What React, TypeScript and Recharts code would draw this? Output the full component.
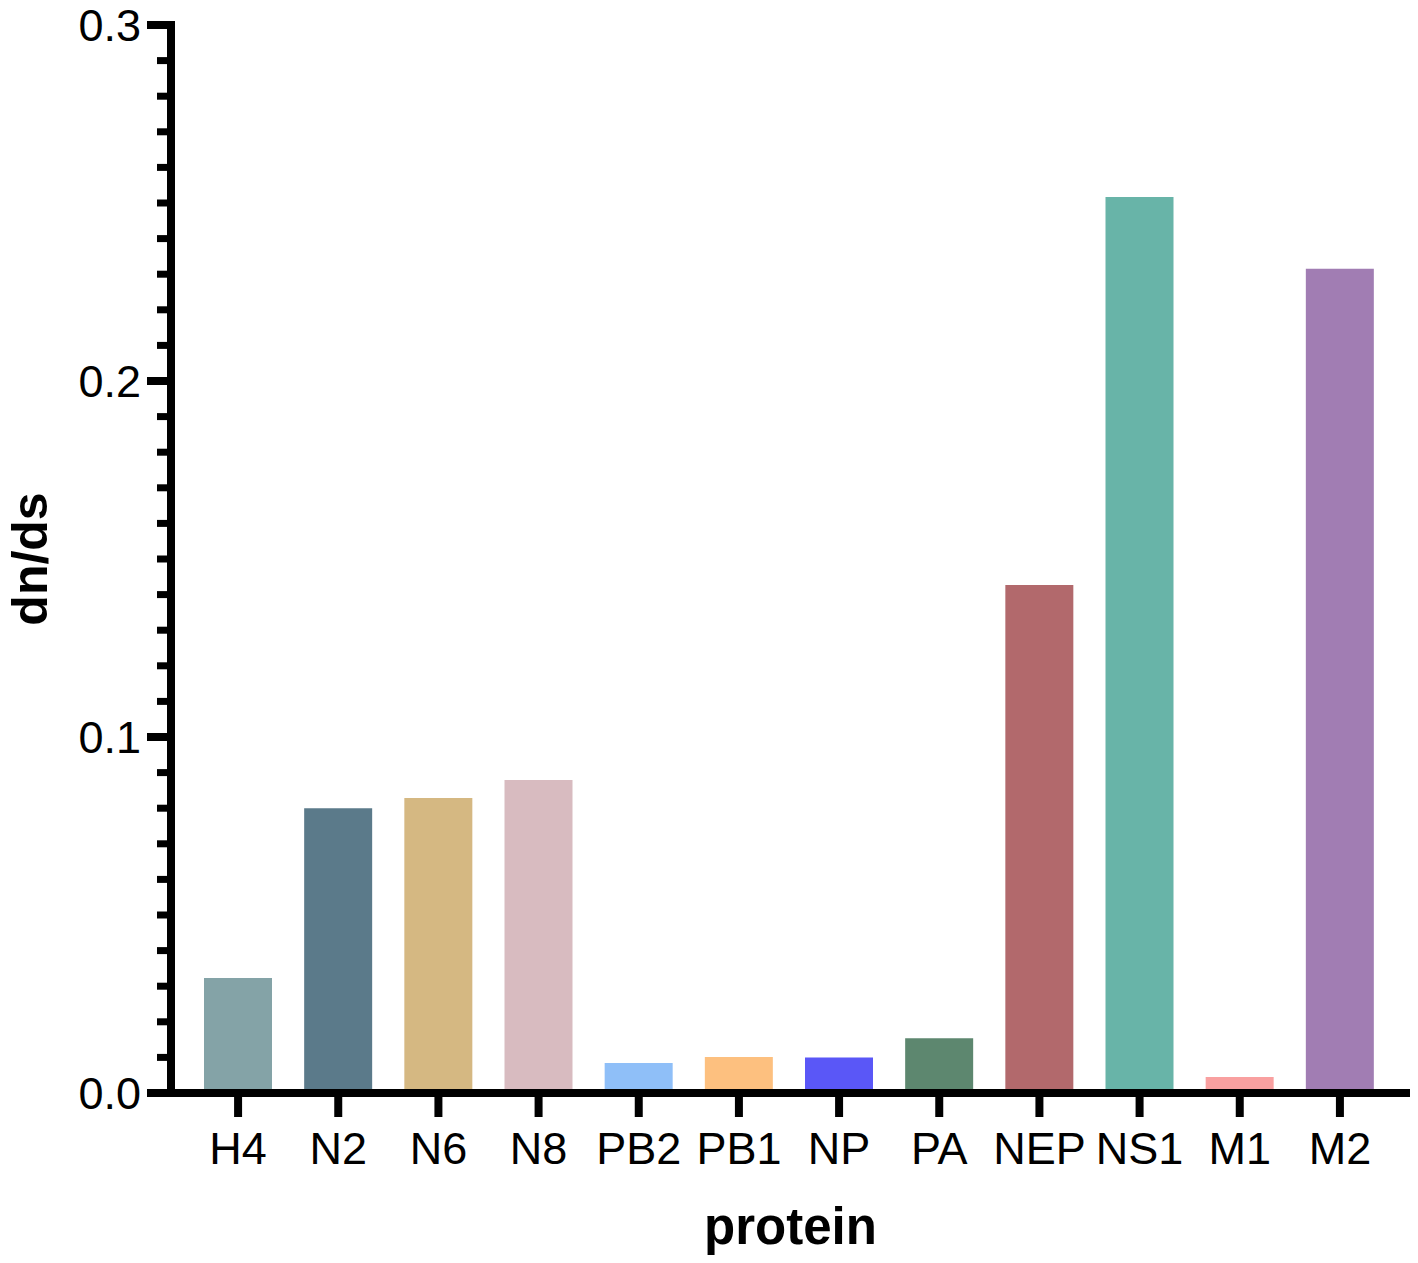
import React from 'react';
import { BarChart, Bar, XAxis, YAxis, Cell, Label } from 'recharts';

const proteins = ['H4', 'N2', 'N6', 'N8', 'PB2', 'PB1', 'NP', 'PA', 'NEP', 'NS1', 'M1', 'M2'];
const dnds = [0.0323, 0.08, 0.0829, 0.0879, 0.0084, 0.0101, 0.01, 0.0154, 0.1427, 0.2517, 0.0045, 0.2315];
const barColors = [
  '#84a3a7', '#5b7a8a', '#d5b882', '#d8bbc0', '#8fbff8', '#fdc07f',
  '#5a57f7', '#5d876f', '#b2696c', '#68b4a8', '#f9a0a0', '#a17db3',
];
const majorTicks = [0, 0.1, 0.2, 0.3];
const majorLabels = ['0.0', '0.1', '0.2', '0.3'];
const minorTicksPerMajor = 10;

const data = proteins.map((p, i) => ({ protein: p, dnds: dnds[i] }));
const yTicks: number[] = [];
for (let k = 0; k <= (majorTicks.length - 1) * minorTicksPerMajor; k++) {
  yTicks.push(k / (minorTicksPerMajor * 10));
}

const FONT = '"Liberation Sans", Arial, Helvetica, sans-serif';

function YTick(props: any) {
  const { x, y, payload } = props;
  const v = payload.value;
  const mi = majorTicks.findIndex((m) => Math.abs(m - v) < 1e-9);
  const isMajor = mi >= 0;
  const len = isMajor ? 24 : 14;
  return (
    <g>
      <line x1={x - len} x2={x} y1={y} y2={y} stroke="#000" strokeWidth={isMajor ? 8 : 7} />
      {isMajor && (
        <text
          x={x - 30}
          y={y}
          textAnchor="end"
          dominantBaseline="central"
          fontFamily={FONT}
          fontSize={45}
          fill="#000"
        >
          {majorLabels[mi]}
        </text>
      )}
    </g>
  );
}

export default function App() {
  return (
    <div style={{ position: 'absolute', left: 0, top: 0, width: 1418, height: 1263, background: '#fff' }}>
      <BarChart
        width={1418}
        height={1263}
        data={data}
        margin={{ top: 25, right: 8, bottom: 0, left: 0 }}
        barSize={68}
      >
        <XAxis
          dataKey="protein"
          height={170}
          padding={{ left: 17, right: 20 }}
          axisLine={{ stroke: '#000', strokeWidth: 8 }}
          tickLine={{ stroke: '#000', strokeWidth: 8 }}
          tickSize={24}
          tickMargin={15}
          interval={0}
          tick={{ fill: '#000', fontSize: 45, fontFamily: FONT }}
        >
          <Label
            content={(p: any) => {
              const vb = p.viewBox || { x: 171, y: 1093, width: 1239 };
              return (
                <text
                  x={vb.x + vb.width / 2}
                  y={vb.y + 151}
                  textAnchor="middle"
                  fontFamily={FONT}
                  fontWeight="bold"
                  fontSize={51}
                  fill="#000"
                >
                  protein
                </text>
              );
            }}
          />
        </XAxis>
        <YAxis
          width={171}
          domain={[0, 0.3]}
          ticks={yTicks}
          interval={0}
          allowDataOverflow
          axisLine={{ stroke: '#000', strokeWidth: 8, strokeLinecap: 'square' }}
          tickLine={false}
          tickSize={0}
          tickMargin={0}
          tick={<YTick />}
        >
          <Label
            content={(p: any) => {
              const vb = p.viewBox || { x: 0, y: 25, height: 1068 };
              const cx = 47;
              const cy = vb.y + vb.height / 2;
              return (
                <text
                  x={cx}
                  y={cy}
                  transform={`rotate(-90, ${cx}, ${cy})`}
                  textAnchor="middle"
                  fontFamily={FONT}
                  fontWeight="bold"
                  fontSize={50}
                  fill="#000"
                >
                  dn/ds
                </text>
              );
            }}
          />
        </YAxis>
        <Bar dataKey="dnds" isAnimationActive={false}>
          {data.map((d, i) => (
            <Cell key={d.protein} fill={barColors[i]} />
          ))}
        </Bar>
      </BarChart>
    </div>
  );
}
